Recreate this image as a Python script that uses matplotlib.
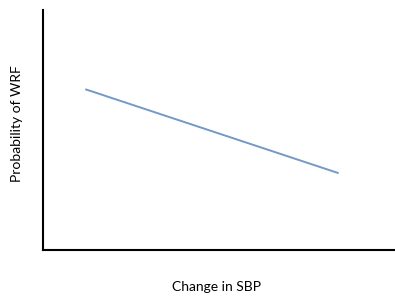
import matplotlib
matplotlib.use("Agg")
import matplotlib.pyplot as plt

# conceptual straight line: change in SBP vs probability of WRF
x_vals = [0.12, 0.84]
y_vals = [0.67, 0.32]
x_label = "Change in SBP"
y_label = "Probability of WRF"

plt.rcParams['font.family'] = ['Lato', 'DejaVu Sans']

fig = plt.figure(figsize=(3.95, 2.96), dpi=100)
ax = fig.add_axes([43/395, 46/296, 352/395, 240/296])

ax.plot(x_vals, y_vals, color='#7399c8', lw=1.4, solid_capstyle='butt')
ax.set_xlim(0, 1)
ax.set_ylim(0, 1)

for s in ['top', 'right']:
    ax.spines[s].set_visible(False)
for s in ['left', 'bottom']:
    ax.spines[s].set_linewidth(1.5)
    ax.spines[s].set_color('black')
ax.set_xticks([])
ax.set_yticks([])

fig.text(216/395, 1 - 287/296, x_label, ha='center', va='center', fontsize=10)
fig.text(17/395, 1 - 124/296, y_label, ha='center', va='center', rotation=90, fontsize=10)

fig.savefig('out.png', dpi=100)
